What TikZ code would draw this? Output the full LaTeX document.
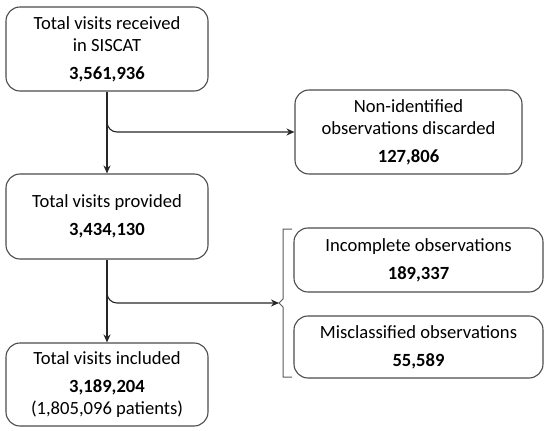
\documentclass[tikz,border=0pt]{standalone}
\usepackage{fontspec}
\setmainfont{Carlito}
\usepackage{tikz}
\usetikzlibrary{arrows.meta}

\begin{document}
\begin{tikzpicture}[x=1pt,y=-1pt,>={Stealth[length=8pt,width=7pt]},
  font=\fontsize{18.6}{22}\selectfont,
  box/.style={draw=black!70,line width=1.1pt,rounded corners=14pt,align=center,inner sep=0pt},
  flow/.style={->,black!85,line width=1.1pt}]
\useasboundingbox (0,0) rectangle (550,431);
% left column
\node[box,minimum width=202pt,minimum height=84pt] (recv) at (107,49)
  {Total visits received\\in SISCAT\\[6pt]\textbf{3,561,936}};
\node[box,minimum width=202pt,minimum height=85pt] (prov) at (107,216.5)
  {Total visits provided\\[6pt]\textbf{3,434,130}};
\node[box,minimum width=202pt,minimum height=83pt] (incl) at (107,384.5)
  {Total visits included\\[6pt]\textbf{3,189,204}\\(1,805,096 patients)};
% right column
\node[box,minimum width=227pt,minimum height=84pt] (nonid) at (408.5,132)
  {Non-identified\\observations discarded\\[6pt]\textbf{127,806}};
\node[box,minimum width=249pt,minimum height=64pt] (incomp) at (418.5,260)
  {Incomplete observations\\[6pt]\textbf{189,337}};
\node[box,minimum width=249pt,minimum height=62pt] (miscl) at (418.5,347)
  {Misclassified observations\\[6pt]\textbf{55,589}};
% bracket
\coordinate (brk) at (279,303);
\draw[black!65,line width=1pt] (292,229) -- (283,229) -- (283,299) -- (brk)
  -- (283,307) -- (283,377) -- (292,377);
% arrows
\draw[flow] (recv) -- (prov);
\draw[flow] (prov) -- (incl);
\coordinate (j1) at (107,116);
\coordinate (j2) at (107,287);
\draw[flow,rounded corners=10pt] (j1) |- (nonid.west);
\draw[flow,rounded corners=10pt] (j2) |- (brk);
\end{tikzpicture}
\end{document}
